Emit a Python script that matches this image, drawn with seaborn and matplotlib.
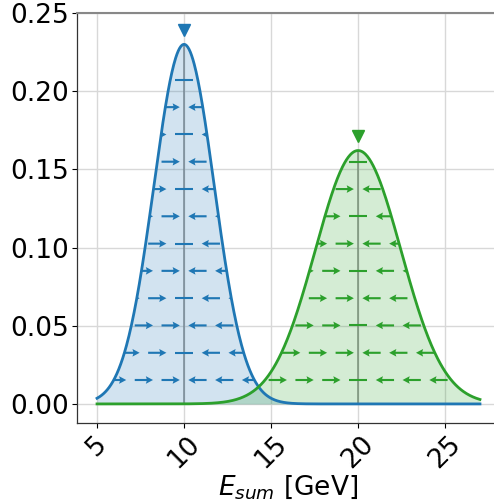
import numpy as np
import matplotlib
matplotlib.use("Agg")
import matplotlib.pyplot as plt
import seaborn as sns

# ---- data ----
means = [10.0, 20.0]          # GeV, peak positions (marked by triangles)
sigmas = [1.735, 2.462]       # GeV, widths of the two Gaussian pdfs
colors = ["#1f77b4", "#2ca02c"]
x_range = [5.0, 27.0]
arrow_rows = [0.0153, 0.0327, 0.0502, 0.0676, 0.0851, 0.1025,
              0.1200, 0.1374, 0.1549, 0.1723, 0.1898, 0.2072]
xticks = [5, 10, 15, 20, 25]
yticks = [0.00, 0.05, 0.10, 0.15, 0.20, 0.25]
xlabel = "$E_{sum}$ [GeV]"

# ---- style parameters ----
arrow_spacing = 10.0 / 6.5
arrow_len = 1.05
fs = 19

fig = plt.figure(figsize=(4.94, 5.04), dpi=100)
ax = fig.add_axes([77 / 494, (504 - 423) / 504, (500 - 77) / 494, (423 - 13) / 504])

xx = np.linspace(x_range[0], x_range[1], 600)
for m, s, c in zip(means, sigmas, colors):
    pdf = np.exp(-0.5 * ((xx - m) / s) ** 2) / (s * np.sqrt(2 * np.pi))
    peak = 1.0 / (s * np.sqrt(2 * np.pi))
    ax.vlines(m, 0, peak, color="gray", alpha=0.75, lw=1.3, zorder=1.5)
    poly = ax.fill_between(xx, 0, pdf, color=c, alpha=0.2, lw=0, zorder=2)
    sns.lineplot(x=xx, y=pdf, color=c, lw=2.0, ax=ax, zorder=4)
    ax.plot([m], [peak + 0.0095], marker="v", ms=9, color=c, ls="none", zorder=5)

    # arrow field on a staggered grid, clipped to the filled area
    X, Y, U, DX, DY = [], [], [], [], []
    for k, yr in enumerate(arrow_rows):
        off = 0.5 * (k % 2)
        for j in range(-12, 13):
            xg = 20.0 + (j + off) * arrow_spacing
            if xg < 3 or xg > 29:
                continue
            d = np.sign(m - xg) if abs(m - xg) > 1e-6 else 0.0
            if d == 0:
                DX.append(xg); DY.append(yr)
            else:
                X.append(xg); Y.append(yr); U.append(d * arrow_len)
    q = ax.quiver(X, Y, U, np.zeros(len(U)), angles="xy", scale_units="xy", scale=1,
                  pivot="mid", color=c, width=0.005, headwidth=3.6, headlength=3.4,
                  headaxislength=3.0, zorder=3)
    path = poly.get_paths()[0]
    q.set_clip_path(path, ax.transData)
    if DX:
        DX = np.array(DX)
        hl = ax.hlines(DY, DX - arrow_len / 2, DX + arrow_len / 2, color=c, lw=1.5, zorder=3)
        hl.set_capstyle("butt")
        hl.set_clip_path(path, ax.transData)

ax.set_xlim(3.85, 28.15)
ax.set_ylim(-0.0122, 0.25)
ax.set_xticks(xticks)
ax.set_yticks(yticks)
ax.set_yticklabels([f"{v:.2f}" for v in yticks])
ax.tick_params(labelsize=fs, length=3.5, pad=2.5, width=0.8)
for lab in ax.get_xticklabels():
    lab.set_rotation(45)
    lab.set_ha("center")
ax.set_xlabel(xlabel, fontsize=fs, labelpad=0)
ax.set_ylabel("")
ax.grid(True, color="#d8d8d8", lw=1.0)
ax.set_axisbelow(True)
for sp in ax.spines.values():
    sp.set_color("#333333")
    sp.set_linewidth(0.9)
ax.spines["top"].set_color("#888888")
ax.spines["top"].set_linewidth(1.5)

fig.savefig("out.png", dpi=100)
